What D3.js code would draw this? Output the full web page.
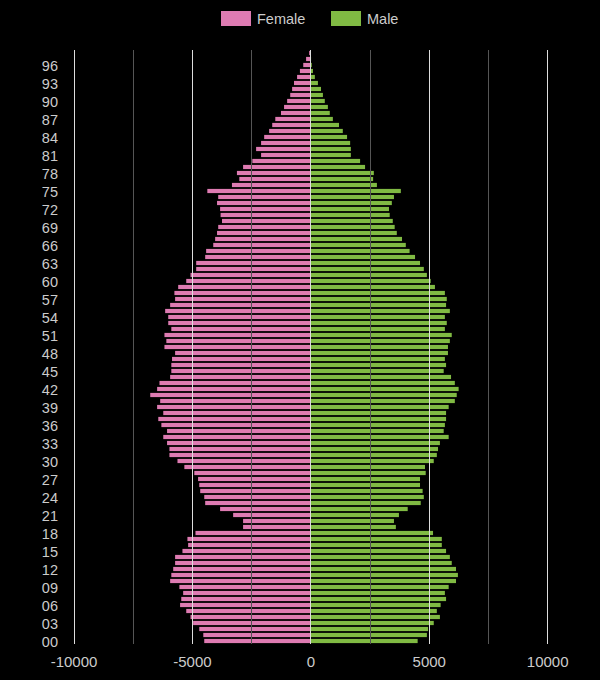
<!DOCTYPE html>
<html>
<head>
<meta charset="utf-8">
<script src="https://cdn.jsdelivr.net/npm/d3@7"></script>
<style>
html,body{margin:0;padding:0;background:#000;}
svg{display:block;}
text{font-family:"Liberation Sans",Arial,sans-serif;}
</style>
</head>
<body>
<svg id="chart" width="600" height="680"></svg>
<script>
// Ages 0..98
const ages = d3.range(0, 99);
const female = [
4480,4520,4690,4950,5060,5240,5500,5450,5370,5530,
5920,5870,5790,5710,5710,5400,5160,5190,4850,2840,
2840,3260,3810,4440,4480,4650,4690,4740,4900,5320,
5610,5950,5950,6050,6210,6050,6290,6420,6210,6470,
6340,6760,6470,6370,5920,5870,5870,5840,5710,6160,
6080,6160,5870,6000,6000,6130,5920,5710,5740,5580,
5240,5060,4820,4820,4440,4400,4100,4020,3940,3890,
3730,3790,3810,3940,3890,4350,3310,3000,3100,2840,
2450,2080,2290,2080,1950,1740,1610,1480,1240,1110,
980,850,770,690,560,440,300,180,50
];
const male = [
4530,4920,4970,5210,5470,5340,5500,5730,5680,5840,
6150,6230,6150,5970,5890,5730,5550,5550,5180,3610,
3530,3740,4110,4660,4790,4740,4630,4630,4870,4840,
5210,5340,5390,5470,5840,5630,5680,5730,5730,5840,
6100,6180,6260,6100,5940,5630,5730,5680,5810,5810,
5890,5970,5680,5760,5680,5890,5730,5760,5680,5260,
5080,4920,4790,4630,4420,4190,4030,3870,3650,3560,
3480,3350,3320,3440,3530,3820,2810,2650,2680,2310,
2100,1710,1710,1680,1550,1370,1210,950,820,740,
610,530,450,320,190,110,60,30,20
];
const seriesNames = ["Female", "Male"];
const seriesColors = ["#de7bb2", "#80ba43"];
const xTicks = [-10000, -7500, -5000, -2500, 0, 2500, 5000, 7500, 10000];
const xLabelTicks = [-10000, -5000, 0, 5000, 10000];

const svg = d3.select("#chart");
const x = d3.scaleLinear().domain([-10000, 10000]).range([73.5, 547.2]);
const y = d3.scaleBand().domain(ages).range([644, 50]).paddingInner(0.3).paddingOuter(0.15);

const data = ages.map((a, i) => ({age: a, f: female[i], m: male[i]}));

// bars
svg.append("g").selectAll("rect.f").data(data).enter().append("rect")
  .attr("x", d => x(-d.f)).attr("width", d => x(0) - x(-d.f))
  .attr("y", d => y(d.age)).attr("height", y.bandwidth())
  .attr("fill", seriesColors[0]);
svg.append("g").selectAll("rect.m").data(data).enter().append("rect")
  .attr("x", x(0)).attr("width", d => x(d.m) - x(0))
  .attr("y", d => y(d.age)).attr("height", y.bandwidth())
  .attr("fill", seriesColors[1]);

// gridlines on top
svg.append("g").selectAll("line").data(xTicks).enter().append("line")
  .attr("x1", d => Math.round(x(d)) + 0.5).attr("x2", d => Math.round(x(d)) + 0.5)
  .attr("y1", 50).attr("y2", 644)
  .attr("stroke", d => (d % 5000 === 0) ? "#dddddd" : "#555")
  .attr("stroke-width", 1);

// x axis labels (plain hyphen for negatives)
const xAxis = d3.axisBottom(x).tickValues(xLabelTicks).tickSize(0).tickPadding(0)
  .tickFormat(d => String(d));
const gx = svg.append("g").attr("transform", "translate(0,656)").call(xAxis);
gx.select(".domain").remove();
gx.selectAll("text").attr("fill", "#cccccc").attr("font-size", 15).attr("dy", "0.71em")
  .style("font-family", "'Liberation Sans', Arial, sans-serif");

// y axis labels every 3 years
const yAxis = d3.axisLeft(y).tickValues(ages.filter(a => a % 3 === 0 && a <= 96))
  .tickSize(0).tickPadding(0).tickFormat(d => d3.format("02d")(d));
const gy = svg.append("g").attr("transform", "translate(58,1.5)").call(yAxis);
gy.select(".domain").remove();
gy.selectAll("text").attr("fill", "#cccccc").attr("font-size", 14.5)
  .style("font-family", "'Liberation Sans', Arial, sans-serif");

// legend
const legendX = [221, 331];
const lg = svg.append("g");
seriesNames.forEach((name, i) => {
  lg.append("rect").attr("x", legendX[i]).attr("y", 11).attr("width", 30).attr("height", 15).attr("fill", seriesColors[i]);
  lg.append("text").attr("x", legendX[i] + 36).attr("y", 23.5).text(name)
    .attr("fill", "#cccccc").attr("font-size", 14.5);
});
</script>
</body>
</html>
